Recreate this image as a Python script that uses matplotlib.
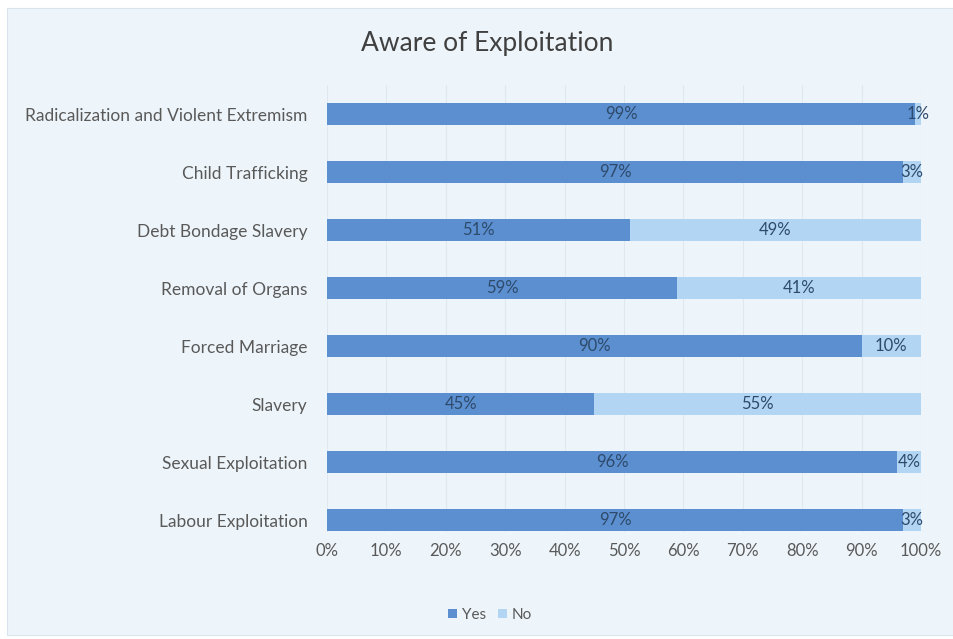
import numpy as np
import matplotlib.pyplot as plt
from matplotlib.patches import Rectangle

# Datos de la encuesta (de abajo hacia arriba)
categorias = ['Labour Exploitation', 'Sexual Exploitation', 'Slavery', 'Forced Marriage',
              'Removal of Organs', 'Debt Bondage Slavery', 'Child Trafficking',
              'Radicalization and Violent Extremism']
si = [97, 96, 45, 90, 59, 51, 97, 99]
no = [3, 4, 55, 10, 41, 49, 3, 1]
ticks_x = [0, 10, 20, 30, 40, 50, 60, 70, 80, 90, 100]

color_si = '#5b8fd0'
color_no = '#b2d5f4'
fondo = '#eef5fa'
texto = '#595959'

plt.rcParams['font.family'] = ['Lato', 'DejaVu Sans']

fig = plt.figure(figsize=(9.54, 6.39), dpi=100)
fig.patch.set_facecolor('white')
# Recuadro de fondo del grafico
fig.patches.append(Rectangle((7 / 954, 4 / 639), 947 / 954, 627 / 639,
                             transform=fig.transFigure, facecolor=fondo,
                             edgecolor='#d9e4ec', linewidth=0.8, zorder=-10))

ax = fig.add_axes([327 / 954, (639 - 532) / 639, 594 / 954, (532 - 85) / 639])
ax.set_facecolor('none')

y = np.arange(len(categorias))
alto = 0.38
ax.barh(y, si, height=alto, color=color_si, label='Yes', zorder=2)
ax.barh(y, no, left=si, height=alto, color=color_no, label='No', zorder=2)

# Etiquetas de porcentaje en cada segmento
for i in range(len(categorias)):
    ax.text(si[i] / 2, y[i], f'{si[i]}%', ha='center', va='center',
            fontsize=12, color='#2e4a6b', zorder=3)
    ax.text(si[i] + no[i] / 2, y[i], f'{no[i]}%', ha='center', va='center',
            fontsize=12, color='#2e4a6b', zorder=3)

ax.set_xlim(0, 100)
ax.set_ylim(-0.2, 7.5)
ax.set_xticks(ticks_x)
ax.set_xticklabels([f'{t}%' for t in ticks_x], fontsize=12, color=texto)
ax.set_yticks(y)
ax.set_yticklabels(categorias, fontsize=12.5, color=texto)
ax.tick_params(length=0)
ax.tick_params(axis='x', pad=8)
ax.tick_params(axis='y', pad=14)
ax.grid(axis='x', color='#dfe8ef', linewidth=0.8, zorder=1)
for s in ax.spines.values():
    s.set_visible(False)

fig.text(487 / 954, 1 - 44 / 639, 'Aware of Exploitation', ha='center', va='center',
         fontsize=19, color='#404040')

fig.legend(loc='center', bbox_to_anchor=(490 / 954, 1 - 615 / 639), ncol=2,
           frameon=False, fontsize=11, labelcolor=texto, handlelength=0.6,
           handleheight=0.6, handletextpad=0.3, columnspacing=0.8)

plt.savefig('out.png', dpi=100, facecolor=fig.get_facecolor())
